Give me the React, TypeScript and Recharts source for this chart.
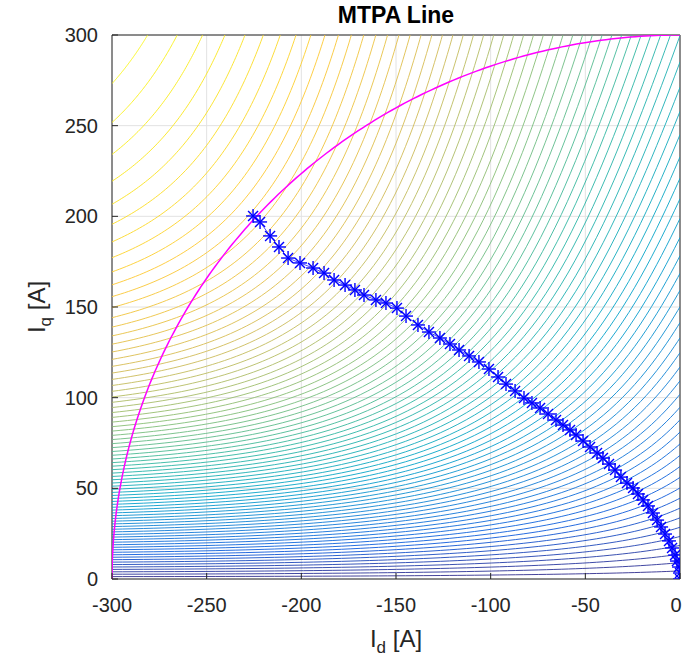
import { ComposedChart, Line, Scatter, XAxis, YAxis, CartesianGrid, ReferenceArea } from "recharts";

const X_TICKS = [-300, -250, -200, -150, -100, -50, 0];
const Y_TICKS = [0, 50, 100, 150, 200, 250, 300];

// MTPA operating points
const MTPA_ID = [0, 0, -0.5, -1.6, -2.6, -4.2, -5.8, -7.9, -10.0, -12.1, -14.3, -16.9, -19.5, -22.2, -24.8, -28.0, -31.2, -34.3, -37.5, -40.7, -43.8, -47.5, -51.2, -54.9, -58.1, -61.8, -65.5, -69.7, -73.9, -78.2, -82.4, -87.1, -91.9, -96.1, -100.9, -106.2, -111.4, -116.7, -121.5, -126.8, -132.6, -138.4, -144.7, -149.5, -155.3, -160.6, -166.9, -171.7, -176.9, -182.7, -188.0, -193.8, -200.7, -207.0, -211.8, -216.5, -221.8, -225.5];
const MTPA_IQ = [0, 3.3, 6.6, 9.9, 13.2, 17.1, 21.0, 24.8, 28.7, 32.5, 36.4, 40.3, 43.6, 46.9, 50.2, 52.9, 56.2, 60.1, 63.4, 66.7, 69.5, 72.8, 76.1, 79.4, 82.2, 84.9, 87.7, 91.0, 94.3, 97.1, 99.8, 103.7, 107.5, 111.4, 115.8, 119.7, 123.0, 126.3, 129.6, 132.9, 136.2, 140.1, 145.0, 149.4, 152.2, 153.9, 156.6, 159.4, 162.1, 164.9, 168.7, 171.5, 174.3, 177.0, 183.1, 189.2, 196.9, 200.2];

// current limit circle radius [A]
const CURRENT_LIMIT = 300;

// normalised torque map: saturating magnet part + saturating reluctance part
const PSI_KNEE = 357;
const D_KNEE = 250;
const Q_GAIN = 0.01036;
const Q_KNEE = 140;
const LEVEL_COUNT = 80;

const PARULA = ["#352a87", "#0f5cdd", "#1481d6", "#06a4ca", "#2eb7a4", "#87bf77", "#d1bb59", "#fec832", "#f9fb0e"];

const torque = (x: number, y: number) => {
  const g = y / (1 + y / PSI_KNEE);
  const dx = x / Math.pow(1 + (x / D_KNEE) ** 4, 0.25);
  const k = (Q_GAIN * y) / Math.pow(1 + (y / Q_KNEE) ** 2, 0.75);
  return g + dx * k;
};

const solveY = (x: number, t: number) => {
  let lo = 0, hi = 300;
  for (let i = 0; i < 40; i++) {
    const mid = (lo + hi) / 2;
    if (torque(x, mid) < t) lo = mid; else hi = mid;
  }
  return (lo + hi) / 2;
};

const solveX = (t: number) => {
  let lo = 0, hi = 300;
  for (let i = 0; i < 40; i++) {
    const mid = (lo + hi) / 2;
    if (torque(mid, 300) < t) lo = mid; else hi = mid;
  }
  return (lo + hi) / 2;
};

const hexToRgb = (h: string) => [1, 3, 5].map((i) => parseInt(h.slice(i, i + 2), 16));
const parula = (f: number) => {
  const p = Math.min(Math.max(f, 0), 1) * (PARULA.length - 1);
  const i = Math.min(Math.floor(p), PARULA.length - 2);
  const a = hexToRgb(PARULA[i]);
  const b = hexToRgb(PARULA[i + 1]);
  const c = a.map((v, k) => Math.round(v + (b[k] - v) * (p - i)));
  return `rgb(${c[0]},${c[1]},${c[2]})`;
};

const tMax = torque(300, 300);
const tTopRight = torque(0, 300);

const contours = Array.from({ length: LEVEL_COUNT }, (_, k) => {
  const frac = (k + 1) / (LEVEL_COUNT + 1);
  const t = tMax * frac;
  const xs = t > tTopRight ? solveX(t) : 0;
  const pts = [];
  const n = 70;
  for (let i = 0; i <= n; i++) {
    const x = xs + (300 - xs) * Math.pow(i / n, 1.3);
    pts.push({ id: -x, iq: i === 0 && xs > 0 ? 300 : solveY(x, t) });
  }
  return { color: parula(frac), data: pts };
});

const circle = Array.from({ length: 181 }, (_, i) => {
  const a = (i / 180) * (Math.PI / 2);
  return { id: -CURRENT_LIMIT * Math.cos(a), iq: CURRENT_LIMIT * Math.sin(a) };
});

const mtpa = MTPA_ID.map((id, i) => ({ id, iq: MTPA_IQ[i] }));

const FONT = "'Liberation Sans', Arial, Helvetica, sans-serif";
const AXIS_COLOR = "#262626";

const BottomTick = (p: any) => (
  <g>
    <line x1={p.x} y1={p.y} x2={p.x} y2={p.y - 6} stroke={AXIS_COLOR} />
    <text x={Math.min(p.x, 676)} y={p.y + 33} textAnchor="middle" fontSize={20} fill={AXIS_COLOR} fontFamily={FONT}>
      {p.payload.value}
    </text>
  </g>
);
const TopTick = (p: any) => <line x1={p.x} y1={p.y} x2={p.x} y2={p.y + 6} stroke={AXIS_COLOR} />;
const LeftTick = (p: any) => (
  <g>
    <line x1={p.x} y1={p.y} x2={p.x + 6} y2={p.y} stroke={AXIS_COLOR} />
    <text x={p.x - 14} y={p.y + 7} textAnchor="end" fontSize={20} fill={AXIS_COLOR} fontFamily={FONT}>
      {p.payload.value}
    </text>
  </g>
);
const RightTick = (p: any) => <line x1={p.x} y1={p.y} x2={p.x - 6} y2={p.y} stroke={AXIS_COLOR} />;

const Asterisk = (p: any) => {
  const { cx, cy } = p;
  const r = 7;
  const d = 5;
  return (
    <g stroke="#0000ff" strokeWidth={1.4}>
      <line x1={cx} y1={cy - r} x2={cx} y2={cy + r} />
      <line x1={cx - r} y1={cy} x2={cx + r} y2={cy} />
      <line x1={cx - d} y1={cy - d} x2={cx + d} y2={cy + d} />
      <line x1={cx - d} y1={cy + d} x2={cx + d} y2={cy - d} />
    </g>
  );
};

export default function App() {
  return (
    <div style={{ position: "absolute", left: 0, top: 0, width: 682, height: 663, background: "#fff" }}>
      <ComposedChart width={682} height={663} margin={{ top: 34, right: 0, bottom: 0, left: 0 }}>
        <CartesianGrid stroke="#e2e2e2" />
        <XAxis
          dataKey="id"
          type="number"
          domain={[-300, 0]}
          ticks={X_TICKS}
          allowDataOverflow
          height={84}
          axisLine={false}
          tickLine={false}
          tickSize={0}
          tickMargin={0}
          tick={<BottomTick />}
          interval={0}
        />
        <XAxis
          xAxisId="top"
          orientation="top"
          dataKey="id"
          type="number"
          domain={[-300, 0]}
          ticks={X_TICKS}
          height={1}
          axisLine={false}
          tickLine={false}
          tickSize={0}
          tickMargin={0}
          tick={<TopTick />}
          interval={0}
        />
        <YAxis
          type="number"
          domain={[0, 300]}
          ticks={Y_TICKS}
          allowDataOverflow
          width={112}
          axisLine={false}
          tickLine={false}
          tickSize={0}
          tickMargin={0}
          tick={<LeftTick />}
          interval={0}
        />
        <YAxis
          yAxisId="right"
          orientation="right"
          type="number"
          domain={[0, 300]}
          ticks={Y_TICKS}
          width={2}
          axisLine={false}
          tickLine={false}
          tickSize={0}
          tickMargin={0}
          tick={<RightTick />}
          interval={0}
        />
        {contours.map((c, i) => (
          <Line
            key={`c-${i}`}
            data={c.data}
            dataKey="iq"
            type="linear"
            stroke={c.color}
            strokeWidth={1}
            strokeOpacity={0.9}
            dot={false}
            activeDot={false}
            isAnimationActive={false}
          />
        ))}
        <Line
          data={circle}
          dataKey="iq"
          type="linear"
          stroke="#ff00ff"
          strokeWidth={1.5}
          dot={false}
          activeDot={false}
          isAnimationActive={false}
        />
        <Line
          data={mtpa}
          dataKey="iq"
          type="linear"
          stroke="#0000ff"
          strokeWidth={0.7}
          dot={false}
          activeDot={false}
          isAnimationActive={false}
        />
        <Scatter data={mtpa} dataKey="iq" shape={<Asterisk />} isAnimationActive={false} />
        <ReferenceArea x1={-300} x2={0} y1={0} y2={300} fill="none" stroke={AXIS_COLOR} strokeWidth={1} ifOverflow="visible" />
      </ComposedChart>
      <svg width={682} height={663} style={{ position: "absolute", left: 0, top: 0, pointerEvents: "none" }}>
        <text x={396} y={23} textAnchor="middle" fontSize={23} fontWeight="bold" fill="#000" fontFamily={FONT}>
          MTPA Line
        </text>
        <text x={396} y={647} textAnchor="middle" fontSize={24} fill={AXIS_COLOR} fontFamily={FONT}>
          I<tspan fontSize={17} dy={6}>d</tspan>
          <tspan dy={-6}> [A]</tspan>
        </text>
        <text
          x={0}
          y={0}
          transform="translate(45 307) rotate(-90)"
          textAnchor="middle"
          fontSize={24}
          fill={AXIS_COLOR}
          fontFamily={FONT}
        >
          I<tspan fontSize={17} dy={6}>q</tspan>
          <tspan dy={-6}> [A]</tspan>
        </text>
      </svg>
    </div>
  );
}
